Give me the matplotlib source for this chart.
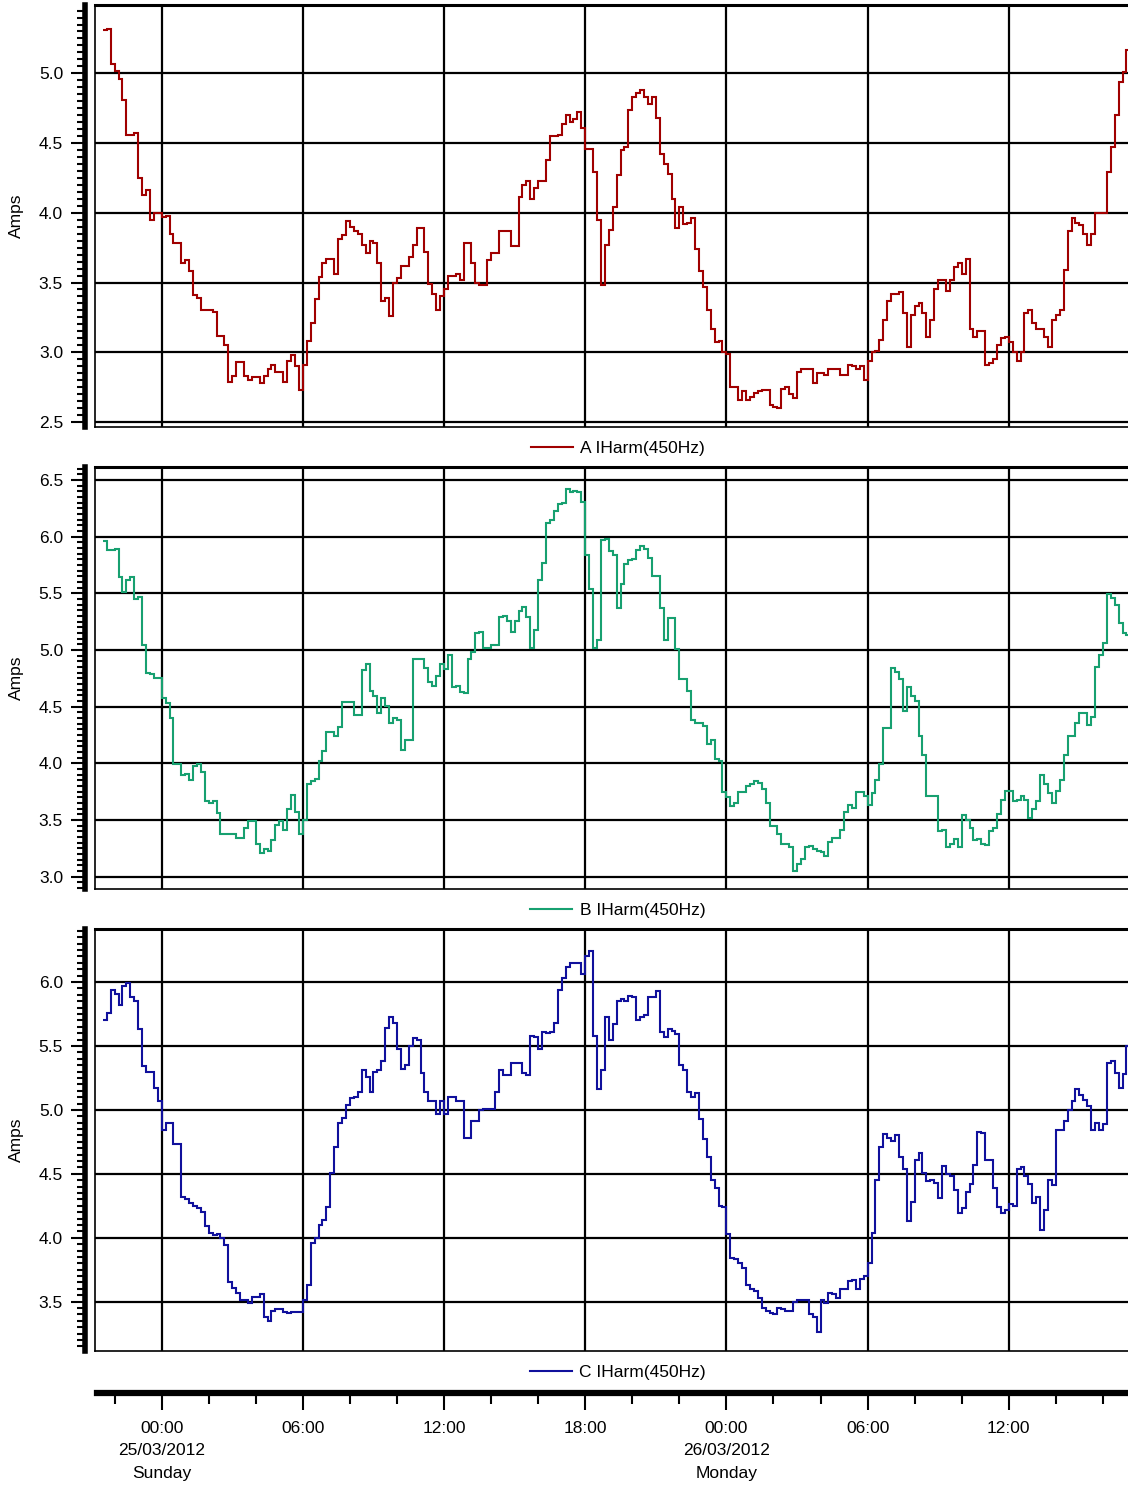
import numpy as np
import pandas as pd
import matplotlib
matplotlib.use("Agg")
import matplotlib.pyplot as plt
import matplotlib.dates as mdates
from matplotlib.ticker import MultipleLocator, FormatStrFormatter, FuncFormatter
from matplotlib.lines import Line2D

plt.rcParams['font.family'] = ['Liberation Sans', 'DejaVu Sans']

# ---------------- data (10-minute samples starting 24/03/2012 21:30) ----------------
start_time = "2012-03-24 21:30"
sample_freq = "10min"

phase_a = [
    5.31, 5.32, 5.07, 5.02, 4.96, 4.81, 4.56, 4.56, 4.57, 4.25,
    4.13, 4.16, 3.95, 4.00, 4.00, 3.97, 3.98, 3.85, 3.78, 3.78,
    3.64, 3.66, 3.58, 3.41, 3.39, 3.30, 3.30, 3.30, 3.29, 3.12,
    3.12, 3.05, 2.79, 2.83, 2.93, 2.93, 2.83, 2.80, 2.82, 2.82,
    2.78, 2.83, 2.88, 2.91, 2.86, 2.86, 2.79, 2.94, 2.98, 2.90,
    2.73, 2.91, 3.08, 3.21, 3.38, 3.54, 3.64, 3.67, 3.67, 3.56,
    3.81, 3.84, 3.94, 3.90, 3.87, 3.85, 3.77, 3.71, 3.80, 3.78,
    3.64, 3.37, 3.39, 3.26, 3.50, 3.53, 3.62, 3.62, 3.68, 3.77,
    3.89, 3.89, 3.72, 3.49, 3.42, 3.30, 3.40, 3.45, 3.55, 3.55,
    3.56, 3.52, 3.78, 3.78, 3.64, 3.50, 3.48, 3.48, 3.66, 3.71,
    3.71, 3.87, 3.87, 3.87, 3.76, 3.76, 4.11, 4.20, 4.23, 4.10,
    4.18, 4.23, 4.23, 4.38, 4.55, 4.55, 4.56, 4.64, 4.70, 4.65,
    4.67, 4.72, 4.61, 4.46, 4.46, 4.29, 3.95, 3.48, 3.77, 3.88,
    4.04, 4.27, 4.45, 4.47, 4.74, 4.83, 4.86, 4.88, 4.83, 4.78,
    4.83, 4.68, 4.42, 4.35, 4.28, 4.10, 3.89, 4.04, 3.92, 3.93,
    3.96, 3.74, 3.58, 3.47, 3.30, 3.17, 3.07, 3.08, 3.00, 2.99,
    2.75, 2.75, 2.66, 2.72, 2.66, 2.68, 2.71, 2.72, 2.73, 2.73,
    2.62, 2.61, 2.60, 2.74, 2.75, 2.70, 2.67, 2.86, 2.88, 2.88,
    2.88, 2.78, 2.85, 2.85, 2.84, 2.88, 2.88, 2.88, 2.84, 2.84,
    2.91, 2.90, 2.88, 2.90, 2.80, 2.94, 3.00, 3.01, 3.09, 3.23,
    3.37, 3.42, 3.42, 3.43, 3.28, 3.04, 3.27, 3.33, 3.35, 3.28,
    3.11, 3.23, 3.45, 3.52, 3.52, 3.44, 3.52, 3.61, 3.64, 3.56,
    3.67, 3.17, 3.11, 3.15, 3.15, 2.91, 2.92, 2.95, 3.05, 3.10,
    3.11, 3.07, 3.00, 2.94, 3.00, 3.28, 3.30, 3.21, 3.17, 3.17,
    3.11, 3.04, 3.23, 3.27, 3.30, 3.59, 3.87, 3.96, 3.93, 3.91,
    3.85, 3.77, 3.85, 4.00, 4.00, 4.00, 4.29, 4.47, 4.70, 4.94,
    5.01, 5.17,
]

phase_b = [
    5.96, 5.88, 5.88, 5.89, 5.64, 5.51, 5.62, 5.64, 5.45, 5.47,
    5.04, 4.80, 4.79, 4.75, 4.75, 4.58, 4.53, 4.40, 3.99, 3.99,
    3.90, 3.91, 3.85, 3.98, 3.99, 3.92, 3.67, 3.65, 3.67, 3.56,
    3.38, 3.38, 3.38, 3.38, 3.34, 3.34, 3.43, 3.49, 3.49, 3.29,
    3.21, 3.24, 3.23, 3.32, 3.46, 3.49, 3.41, 3.60, 3.72, 3.57,
    3.38, 3.50, 3.82, 3.84, 3.86, 4.02, 4.11, 4.28, 4.28, 4.24,
    4.32, 4.54, 4.54, 4.54, 4.43, 4.43, 4.82, 4.88, 4.64, 4.59,
    4.44, 4.58, 4.51, 4.36, 4.40, 4.38, 4.12, 4.21, 4.21, 4.92,
    4.92, 4.92, 4.84, 4.72, 4.68, 4.77, 4.88, 4.83, 4.96, 4.67,
    4.68, 4.63, 4.62, 4.92, 4.98, 5.15, 5.16, 5.02, 5.02, 5.04,
    5.04, 5.29, 5.30, 5.26, 5.16, 5.26, 5.34, 5.38, 5.29, 5.02,
    5.18, 5.62, 5.77, 6.12, 6.15, 6.23, 6.29, 6.30, 6.42, 6.39,
    6.40, 6.39, 6.31, 5.84, 5.54, 5.02, 5.09, 5.97, 5.98, 5.87,
    5.84, 5.37, 5.58, 5.76, 5.79, 5.80, 5.88, 5.92, 5.89, 5.81,
    5.65, 5.65, 5.37, 5.09, 5.28, 5.28, 5.01, 4.74, 4.74, 4.64,
    4.38, 4.36, 4.36, 4.33, 4.17, 4.21, 4.04, 4.02, 3.75, 3.70,
    3.62, 3.65, 3.75, 3.75, 3.80, 3.82, 3.84, 3.83, 3.77, 3.65,
    3.45, 3.45, 3.38, 3.29, 3.29, 3.26, 3.05, 3.11, 3.16, 3.26,
    3.27, 3.24, 3.23, 3.22, 3.18, 3.31, 3.34, 3.34, 3.41, 3.57,
    3.63, 3.61, 3.75, 3.75, 3.71, 3.63, 3.74, 3.85, 3.99, 4.31,
    4.31, 4.84, 4.81, 4.74, 4.46, 4.67, 4.59, 4.55, 4.24, 4.07,
    3.71, 3.71, 3.71, 3.40, 3.41, 3.26, 3.29, 3.33, 3.26, 3.54,
    3.50, 3.43, 3.32, 3.33, 3.29, 3.28, 3.40, 3.43, 3.55, 3.68,
    3.76, 3.76, 3.67, 3.68, 3.71, 3.68, 3.52, 3.60, 3.67, 3.90,
    3.82, 3.74, 3.65, 3.76, 3.85, 4.07, 4.24, 4.24, 4.36, 4.44,
    4.44, 4.34, 4.41, 4.85, 4.96, 5.06, 5.49, 5.46, 5.40, 5.24,
    5.15, 5.13,
]

phase_c = [
    5.70, 5.76, 5.94, 5.91, 5.82, 5.97, 5.99, 5.88, 5.85, 5.63,
    5.34, 5.30, 5.30, 5.17, 5.07, 4.84, 4.90, 4.90, 4.73, 4.73,
    4.32, 4.30, 4.27, 4.25, 4.23, 4.20, 4.09, 4.04, 4.02, 4.03,
    4.00, 3.94, 3.65, 3.61, 3.57, 3.51, 3.51, 3.49, 3.54, 3.54,
    3.56, 3.38, 3.35, 3.43, 3.44, 3.44, 3.42, 3.41, 3.42, 3.42,
    3.42, 3.51, 3.63, 3.96, 4.00, 4.10, 4.14, 4.24, 4.51, 4.71,
    4.90, 4.94, 5.04, 5.09, 5.10, 5.14, 5.31, 5.26, 5.14, 5.30,
    5.31, 5.38, 5.64, 5.73, 5.68, 5.48, 5.32, 5.35, 5.50, 5.56,
    5.55, 5.29, 5.14, 5.07, 5.07, 4.97, 5.07, 4.97, 5.10, 5.10,
    5.07, 5.07, 4.78, 4.78, 4.91, 4.91, 5.00, 5.01, 5.01, 5.01,
    5.14, 5.31, 5.27, 5.27, 5.37, 5.37, 5.37, 5.29, 5.27, 5.58,
    5.57, 5.48, 5.61, 5.60, 5.61, 5.68, 5.94, 6.03, 6.12, 6.15,
    6.15, 6.15, 6.06, 6.20, 6.24, 5.58, 5.16, 5.31, 5.73, 5.55,
    5.67, 5.85, 5.87, 5.85, 5.89, 5.88, 5.70, 5.73, 5.74, 5.88,
    5.88, 5.93, 5.61, 5.57, 5.63, 5.62, 5.59, 5.35, 5.31, 5.14,
    5.10, 5.13, 4.93, 4.77, 4.63, 4.45, 4.39, 4.25, 4.24, 4.03,
    3.84, 3.83, 3.80, 3.76, 3.63, 3.60, 3.58, 3.53, 3.45, 3.43,
    3.41, 3.40, 3.45, 3.44, 3.43, 3.43, 3.50, 3.51, 3.51, 3.51,
    3.40, 3.38, 3.26, 3.51, 3.49, 3.57, 3.56, 3.53, 3.60, 3.60,
    3.66, 3.67, 3.60, 3.68, 3.70, 3.80, 4.04, 4.45, 4.71, 4.81,
    4.78, 4.76, 4.80, 4.63, 4.54, 4.13, 4.28, 4.61, 4.66, 4.51,
    4.44, 4.45, 4.43, 4.31, 4.56, 4.50, 4.48, 4.37, 4.19, 4.23,
    4.36, 4.42, 4.57, 4.83, 4.82, 4.61, 4.61, 4.39, 4.24, 4.19,
    4.22, 4.26, 4.25, 4.54, 4.55, 4.48, 4.42, 4.27, 4.32, 4.06,
    4.22, 4.45, 4.41, 4.84, 4.84, 4.91, 5.00, 5.07, 5.16, 5.12,
    5.08, 5.03, 4.84, 4.90, 4.84, 4.89, 5.37, 5.38, 5.29, 5.17,
    5.28, 5.50,
]

series_labels = ["A IHarm(450Hz)", "B IHarm(450Hz)", "C IHarm(450Hz)"]
y_label = "Amps"
view_start = "2012-03-24 21:10"
view_end = "2012-03-26 17:04"

# ---------------- styling ----------------
colors = ["#a00000", "#17a070", "#10109c"]
ylims = [(2.464, 5.49), (2.891, 6.615), (3.114, 6.415)]
FS = 12.5

W, H = 1128, 1485
fig = plt.figure(figsize=(W / 100, H / 100), dpi=100)

left_px = 95
panel_tops = [5, 467, 929]
panel_h = 422
legend_y = [448, 910, 1372]
legend_x = 618

xmin = mdates.date2num(pd.Timestamp(view_start))
xmax = mdates.date2num(pd.Timestamp(view_end))

all_series = [phase_a, phase_b, phase_c]
for k, vals in enumerate(all_series):
    top = panel_tops[k]
    ax = fig.add_axes([left_px / W, 1 - (top + panel_h) / H, (W - left_px) / W, panel_h / H])
    edges = mdates.date2num(pd.date_range(start_time, periods=len(vals) + 1, freq=sample_freq))
    ax.stairs(vals, edges, baseline=None, color=colors[k], lw=1.5, zorder=3)
    ax.set_xlim(xmin, xmax)
    ax.set_ylim(*ylims[k])

    ax.xaxis.set_major_locator(mdates.HourLocator(byhour=[0, 6, 12, 18]))
    ax.tick_params(axis="x", which="both", length=0, labelbottom=False)
    ax.yaxis.set_major_locator(MultipleLocator(0.5))
    ax.yaxis.set_minor_locator(MultipleLocator(0.05))
    ax.yaxis.set_major_formatter(FormatStrFormatter("%.1f"))
    ax.tick_params(axis="y", which="major", length=10, width=1.5, pad=6,
                   labelsize=FS, direction="out")
    ax.tick_params(axis="y", which="minor", length=6, width=1.5, direction="out")
    ax.grid(True, which="major", axis="both", color="black", lw=1.6)
    ax.set_axisbelow(True)

    ax.spines["left"].set_position(("outward", 7))
    ax.spines["left"].set_linewidth(4)
    ax.spines["right"].set_visible(False)
    ax.spines["top"].set_linewidth(2.2)
    ax.spines["bottom"].set_linewidth(1.2)
    ax.plot([0, 0], [0, 1], transform=ax.transAxes, color="black", lw=1.2,
            clip_on=False, zorder=4)

    ax.set_ylabel(y_label, fontsize=FS)
    ax.yaxis.set_label_coords(-0.0692, 0.5)

    handle = Line2D([], [], color=colors[k], lw=1.5)
    ax.legend([handle], [series_labels[k]], loc="center",
              bbox_to_anchor=(legend_x / W, 1 - legend_y[k] / H),
              bbox_transform=fig.transFigure, frameon=False, fontsize=FS,
              handlelength=2.4, handletextpad=0.45, borderpad=0, borderaxespad=0)

# ---------------- shared time axis ----------------
axis_y = 1393
ax_t = fig.add_axes([97 / W, 1 - axis_y / H, (W - 97) / W, 0.0001])
ax_t.set_xlim(mdates.date2num(pd.Timestamp(view_start)) + (2 / 23.52) / 24, xmax)
for s in ["top", "left", "right"]:
    ax_t.spines[s].set_visible(False)
ax_t.spines["bottom"].set_linewidth(4.5)
ax_t.set_yticks([])
ax_t.xaxis.set_major_locator(mdates.HourLocator(byhour=[0, 6, 12, 18]))
ax_t.xaxis.set_minor_locator(mdates.HourLocator(byhour=list(range(0, 24, 2))))


def time_label(x, pos):
    d = mdates.num2date(x)
    if d.hour == 0:
        return f"{d:%H:%M}\n{d:%d/%m/%Y}\n{d:%A}"
    return f"{d:%H:%M}"


ax_t.xaxis.set_major_formatter(FuncFormatter(time_label))
ax_t.tick_params(axis="x", which="major", length=12, width=1.5, pad=8, labelsize=FS)
ax_t.tick_params(axis="x", which="minor", length=8, width=1.5)

fig.canvas.draw()
for lbl in ax_t.get_xticklabels():
    lbl.set_linespacing(1.62)

fig.savefig("out.png", dpi=100)
